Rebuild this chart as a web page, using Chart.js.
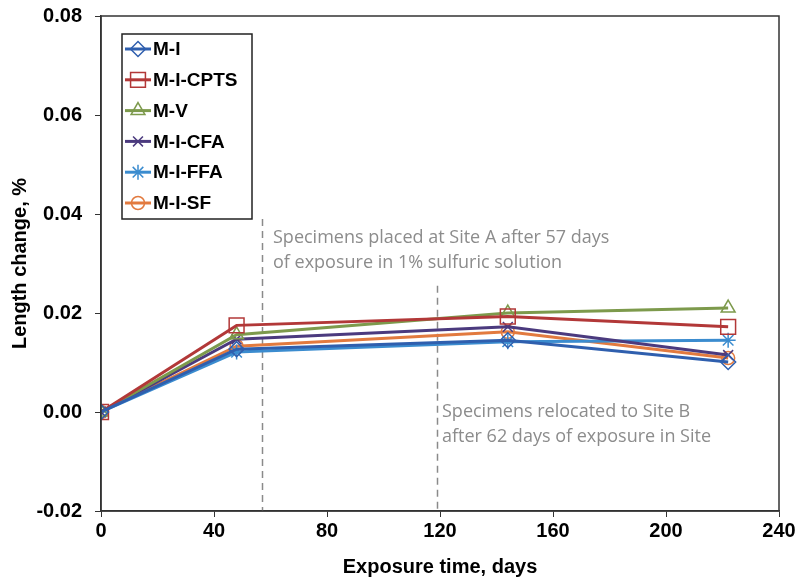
<!DOCTYPE html>
<html>
<head>
<meta charset="utf-8">
<script src="https://cdn.jsdelivr.net/npm/chart.js@4/dist/chart.umd.min.js"></script>
<style>
  html, body { margin: 0; padding: 0; background: #fff; }
  #wrap { width: 800px; height: 583px; }
</style>
</head>
<body>
<div id="wrap"><canvas id="myChart" width="800" height="583"></canvas></div>
<script>
// exposure time (days) at each reading
const days = [0, 48, 144, 222];

// length change, %
const mI     = [0, 0.0127, 0.0145, 0.0101];
const mICPTS = [0, 0.0175, 0.0193, 0.0172];
const mV     = [0, 0.0156, 0.0200, 0.0210];
const mICFA  = [0, 0.0147, 0.0172, 0.0115];
const mIFFA  = [0, 0.0121, 0.0142, 0.0145];
const mISF   = [0, 0.0133, 0.0162, 0.0109];

const seriesNames = ['M-I', 'M-I-CPTS', 'M-V', 'M-I-CFA', 'M-I-FFA', 'M-I-SF'];
const xTicks = [0, 40, 80, 120, 160, 200, 240];
const yTicks = [-0.02, 0, 0.02, 0.04, 0.06, 0.08];

// events marked with dashed lines: day, top of line (%), note
const eventDays = [57, 119];
const eventTops = [0.0390, 0.0255];
const eventNotes = [
  ['Specimens placed at Site A after 57 days', 'of exposure in 1% sulfuric solution'],
  ['Specimens relocated to Site B', 'after 62 days of exposure in Site']
];

const colors = ['#2f5fae', '#b23838', '#7d9a4c', '#4b3a7e', '#3b8ccf', '#e27a3f'];
const markers = ['rectRot', 'rect', 'triangle', 'crossRot', 'star', 'circle'];
const markerSize = [7.5, 10.5, 8, 7, 7.5, 6.5];
const allValues = [mI, mICPTS, mV, mICFA, mIFFA, mISF];

const datasets = seriesNames.map((name, i) => ({
  label: name,
  data: days.map((d, j) => ({ x: d, y: allValues[i][j] })),
  borderColor: colors[i],
  backgroundColor: 'rgba(255,255,255,0)',
  pointBorderColor: colors[i],
  pointBackgroundColor: 'rgba(255,255,255,0)',
  pointStyle: markers[i],
  pointRadius: markerSize[i],
  pointBorderWidth: 1.5,
  borderWidth: 3,
  tension: 0
}));

// frame, dashed event lines, notes and the boxed legend
const extras = {
  id: 'extras',
  beforeDatasetsDraw(chart) {
    const { ctx, chartArea: a, scales: { x, y } } = chart;
    ctx.save();
    ctx.strokeStyle = '#8a8a8a';
    ctx.lineWidth = 1.5;
    ctx.setLineDash([7, 5]);
    eventDays.forEach((d, i) => {
      const px = Math.round(x.getPixelForValue(d)) + 0.5;
      ctx.beginPath();
      ctx.moveTo(px, y.getPixelForValue(eventTops[i]));
      ctx.lineTo(px, a.bottom);
      ctx.stroke();
    });
    ctx.setLineDash([]);
    ctx.fillStyle = '#8c8c8c';
    ctx.font = '18px "Open Sans", sans-serif';
    ctx.textBaseline = 'middle';
    const notePos = [[273, 238], [442, 412]];
    eventNotes.forEach((lines, i) => {
      lines.forEach((t, k) => ctx.fillText(t, notePos[i][0], notePos[i][1] + k * 25));
    });
    ctx.restore();
  },
  afterDraw(chart) {
    const { ctx, chartArea: a } = chart;
    ctx.save();
    ctx.strokeStyle = '#333';
    ctx.lineWidth = 1.5;
    ctx.strokeRect(a.left, a.top, a.width, a.height);

    // legend
    const lx = 122, ly = 34, lw = 130, lh = 185, rowH = 30.8;
    ctx.fillStyle = '#fff';
    ctx.fillRect(lx, ly, lw, lh);
    ctx.strokeStyle = '#222';
    ctx.lineWidth = 1.5;
    ctx.strokeRect(lx, ly, lw, lh);
    chart.data.datasets.forEach((ds, i) => {
      const cy = ly + 15 + i * rowH;
      ctx.strokeStyle = ds.borderColor;
      ctx.lineWidth = 3;
      ctx.beginPath();
      ctx.moveTo(lx + 3, cy);
      ctx.lineTo(lx + 29, cy);
      ctx.stroke();
      ctx.lineWidth = 1.5;
      ctx.fillStyle = 'rgba(255,255,255,0)';
      Chart.helpers.drawPoint(ctx, { pointStyle: ds.pointStyle, radius: ds.pointRadius, rotation: 0, borderWidth: 1.5 }, lx + 16, cy);
      ctx.fillStyle = '#000';
      ctx.font = 'bold 19px "Liberation Sans", Arial, sans-serif';
      ctx.textBaseline = 'middle';
      ctx.fillText(ds.label, lx + 31, cy + 1);
    });
    ctx.restore();
  }
};

const tickFont = { family: '"Liberation Sans", Arial, sans-serif', size: 20, weight: 'bold' };
const titleFont = { family: '"Liberation Sans", Arial, sans-serif', size: 20, weight: 'bold' };

new Chart(document.getElementById('myChart').getContext('2d'), {
  type: 'line',
  data: { datasets },
  options: {
    responsive: false,
    animation: false,
    devicePixelRatio: 1,
    layout: { padding: { top: 16, right: 21, left: 8, bottom: 0 } },
    plugins: { legend: { display: false }, tooltip: { enabled: false } },
    scales: {
      x: {
        type: 'linear',
        min: 0, max: 240,
        afterBuildTicks: s => { s.ticks = xTicks.map(v => ({ value: v })); },
        afterFit: s => { s.height = 72; },
        border: { color: '#333', width: 1.5 },
        grid: { drawOnChartArea: false, tickLength: 6, color: '#333' },
        ticks: { color: '#000', font: tickFont, padding: 2, maxRotation: 0 },
        title: { display: true, text: 'Exposure time, days', color: '#000', font: titleFont, padding: { top: 6 } }
      },
      y: {
        min: -0.02, max: 0.08,
        afterBuildTicks: s => { s.ticks = yTicks.map(v => ({ value: v })); },
        afterFit: s => { s.width = 93; s.paddingTop = 0; s.paddingBottom = 0; },
        border: { color: '#333', width: 1.5 },
        grid: { drawOnChartArea: false, tickLength: 6, color: '#333' },
        ticks: { color: '#000', font: tickFont, padding: 13, callback: v => v.toFixed(2) },
        title: { display: true, text: 'Length change, %', color: '#000', font: titleFont, padding: 0 }
      }
    }
  },
  plugins: [extras]
});
</script>
</body>
</html>
